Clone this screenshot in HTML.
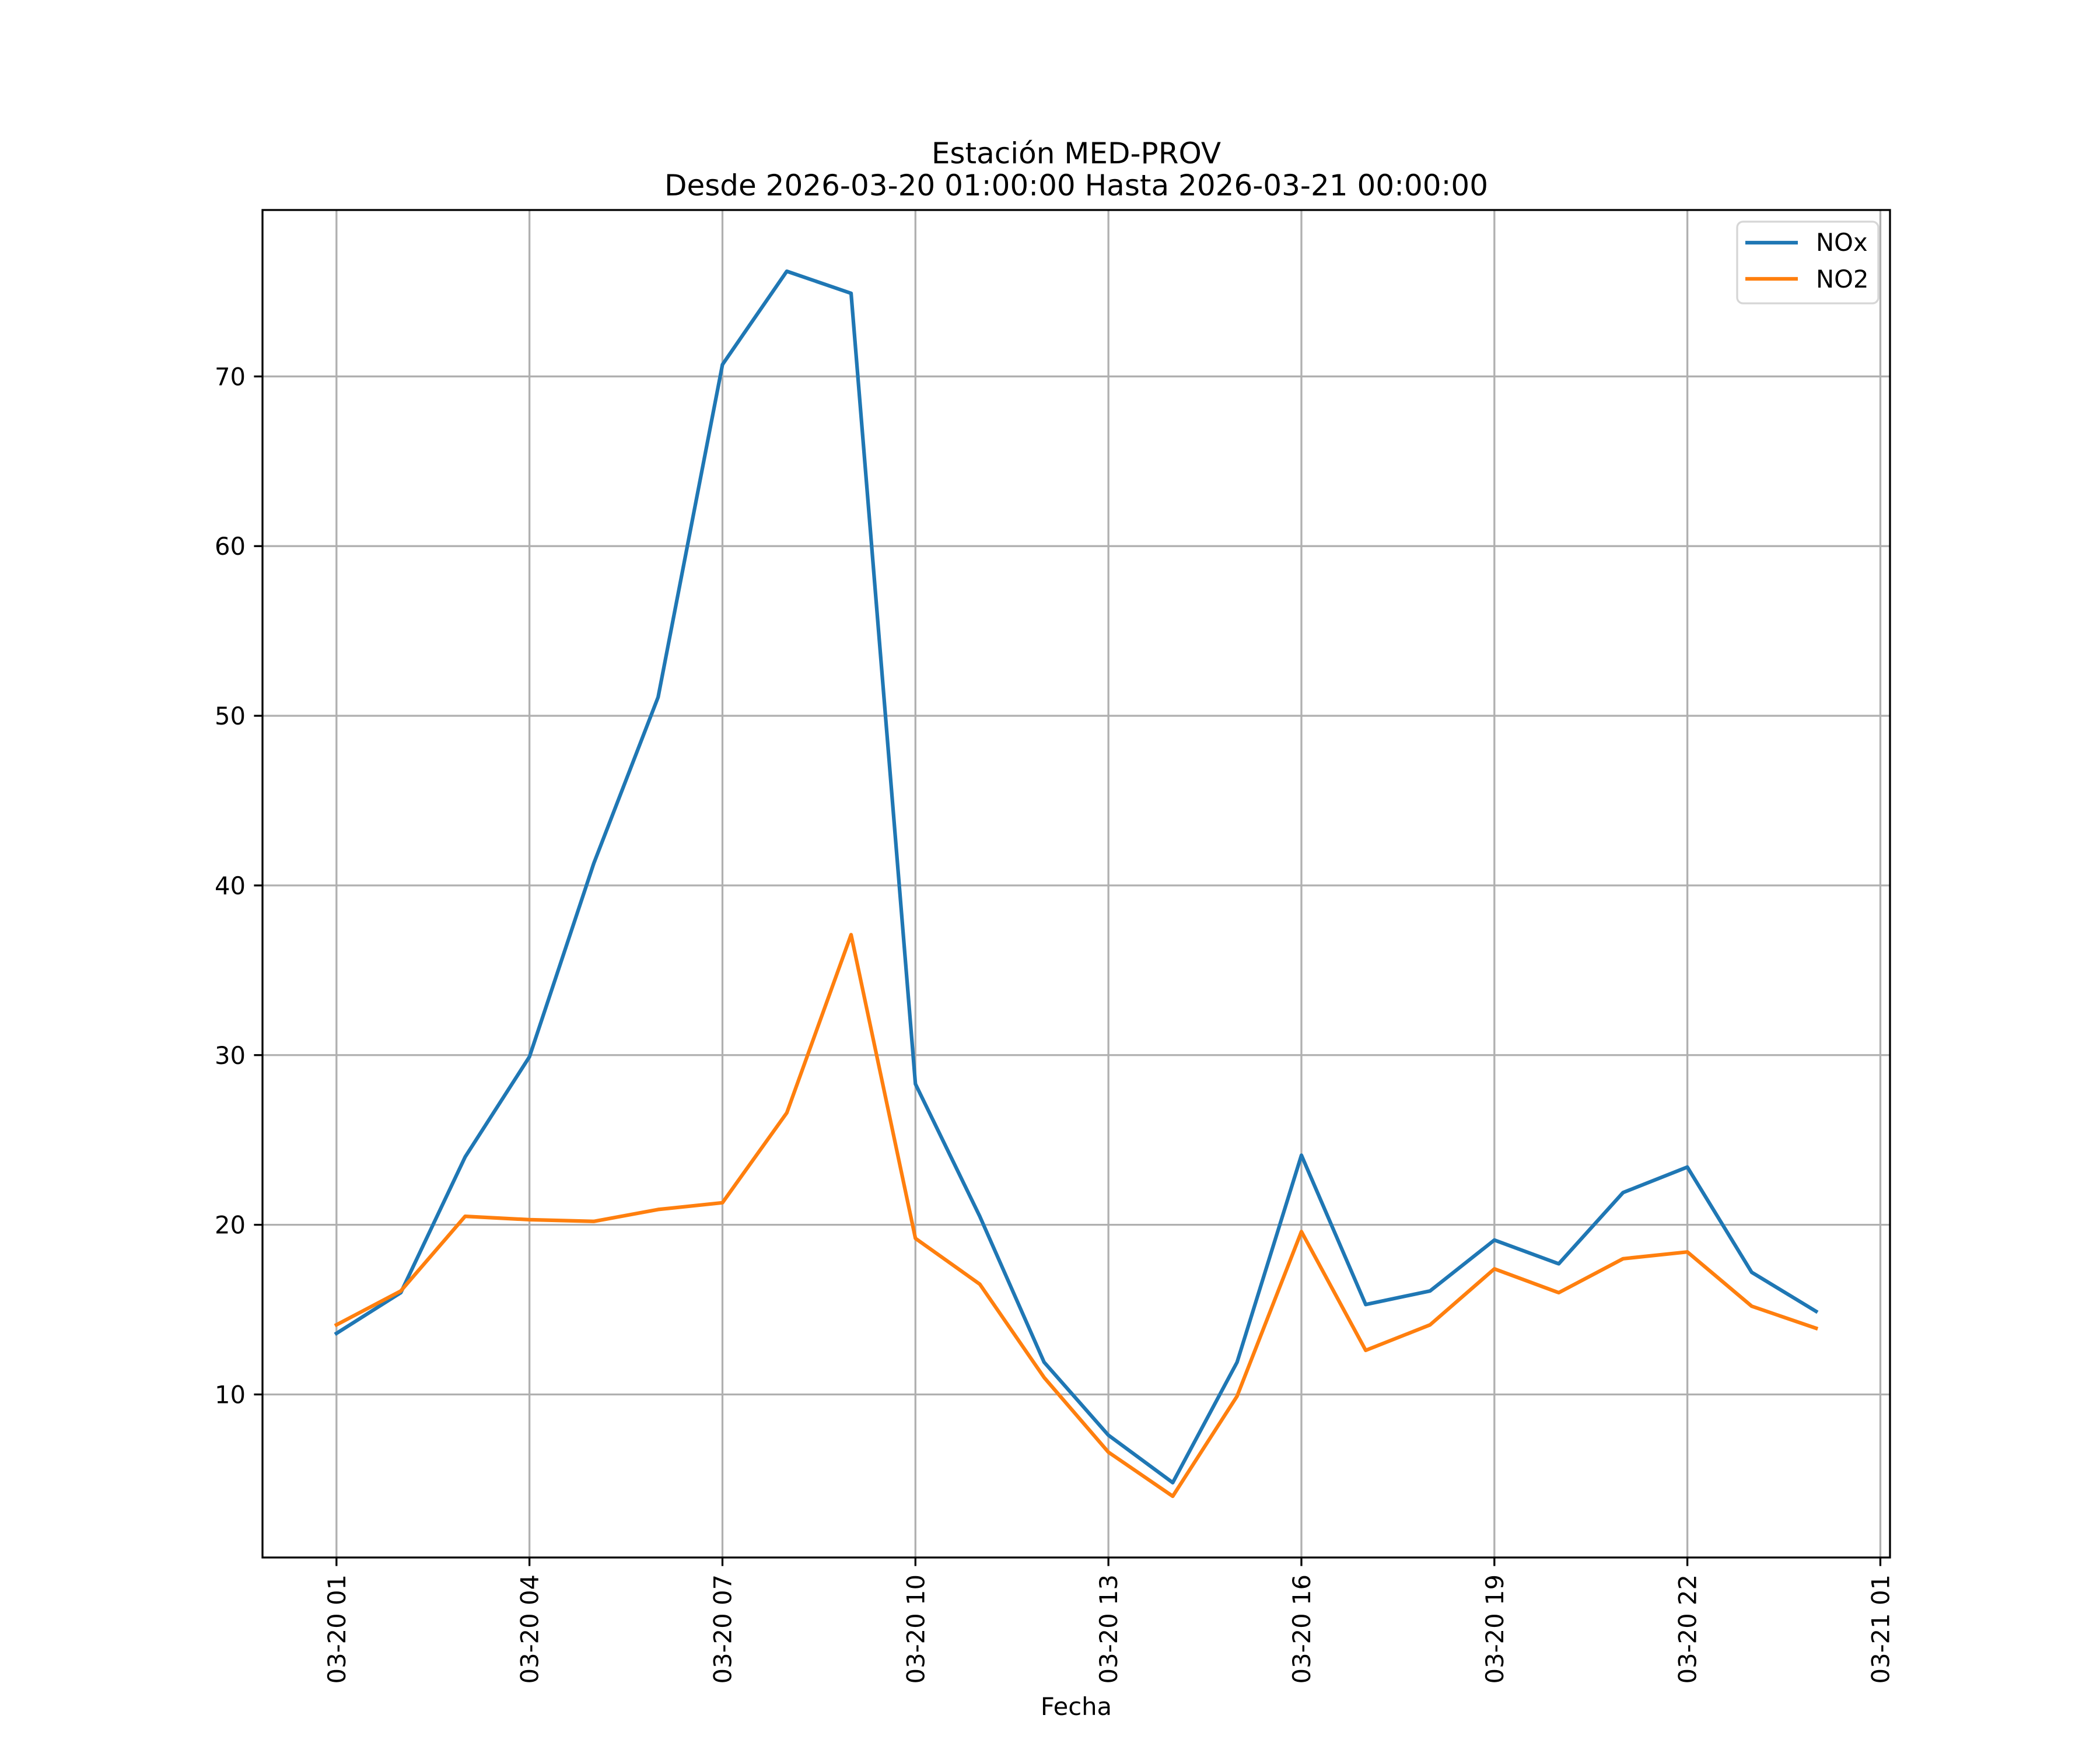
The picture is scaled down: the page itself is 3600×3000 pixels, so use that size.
<!DOCTYPE html>
<html><head><meta charset="utf-8"><style>
html,body{margin:0;padding:0;background:#fff;}
svg{display:block;font-family:"DejaVu Sans","Liberation Sans",sans-serif;}
</style></head><body>
<svg id="chart" width="3600" height="3000" viewBox="0 0 3600 3000" xmlns="http://www.w3.org/2000/svg">
<rect width="3600" height="3000" fill="#fff"/>
<text x="1845" y="280" font-size="50" text-anchor="middle">Estación MED-PROV</text>
<text x="1845" y="335" font-size="50" text-anchor="middle">Desde 2026-03-20 01:00:00 Hasta 2026-03-21 00:00:00</text>
<g id="grid"></g>
<g id="series"></g>
<g id="axes"></g>
<text x="1845" y="2940" font-size="41.7" text-anchor="middle">Fecha</text>
<g>
<rect x="2978" y="380" width="242" height="140" rx="10" fill="#fff" fill-opacity="0.8" stroke="#d6d6d6" stroke-width="3.3"/>
<line x1="2992" y1="416" x2="3082" y2="416" stroke="#1f77b4" stroke-width="6.25"/>
<text x="3113" y="430" font-size="41.7">NOx</text>
<line x1="2992" y1="478" x2="3082" y2="478" stroke="#ff7f0e" stroke-width="6.25"/>
<text x="3113" y="493" font-size="41.7">NO2</text>
</g>
</svg>
<script>
const hours = [0,1,2,3,4,5,6,7,8,9,10,11,12,13,14,15,16,17,18,19,20,21,22,23];
const noxValues = [13.6,16.0,24.0,29.9,41.3,51.1,70.7,76.2,74.9,28.3,20.5,11.9,7.6,4.8,11.9,24.1,15.3,16.1,19.1,17.7,21.9,23.4,17.2,14.9];
const no2Values = [14.1,16.1,20.5,20.3,20.2,20.9,21.3,26.6,37.1,19.2,16.5,11.0,6.6,4.0,9.9,19.6,12.6,14.1,17.4,16.0,18.0,18.4,15.2,13.9];
const xTickHours = [0,3,6,9,12,15,18,21,24];
const xTickLabels = ["03-20 01","03-20 04","03-20 07","03-20 10","03-20 13","03-20 16","03-20 19","03-20 22","03-21 01"];
const yTickValues = [10,20,30,40,50,60,70];

const L=450,R=3240,T=360,B=2670;
const all=noxValues.concat(no2Values);
const vmin=Math.min(...all), vmax=Math.max(...all), vr=vmax-vmin;
const y0=vmin-0.05*vr, y1=vmax+0.05*vr;
const hmin=Math.min(...hours), hmax=Math.max(...hours), hr=hmax-hmin;
const x0=hmin-0.05*hr, x1=hmax+0.05*hr;
const X=h=>L+(h-x0)/(x1-x0)*(R-L);
const Y=v=>B-(v-y0)/(y1-y0)*(B-T);
const NS='http://www.w3.org/2000/svg';
function mk(tag,attrs,parent){const e=document.createElementNS(NS,tag);for(const k in attrs)e.setAttribute(k,attrs[k]);parent.appendChild(e);return e;}
const grid=document.getElementById('grid'),axes=document.getElementById('axes'),series=document.getElementById('series');
xTickHours.forEach((h,i)=>{
  const x=X(h);
  const g=mk('line',{x1:x,y1:T,x2:x,y2:B,stroke:'#b0b0b0','stroke-width':3.3},grid);
  
  
  const t=mk('line',{x1:x,y1:B,x2:x,y2:B+14.6,stroke:'#000','stroke-width':3.3},axes);
  
  
  const lb=mk('text',{x:0,y:0,'font-size':41.7,'text-anchor':'end',transform:`translate(${x+15},${B+29}) rotate(-90)`},axes);
  lb.textContent=xTickLabels[i];
  
  
});
yTickValues.forEach(v=>{
  const y=Y(v);
  const g=mk('line',{x1:L,y1:y,x2:R,y2:y,stroke:'#b0b0b0','stroke-width':3.3},grid);
  
  
  const t=mk('line',{x1:L-14.6,y1:y,x2:L,y2:y,stroke:'#000','stroke-width':3.3},axes);
  
  
  const lb=mk('text',{x:L-29,y:y+15,'font-size':41.7,'text-anchor':'end'},axes);
  lb.textContent=String(v);
  
  
});
const frame=mk('rect',{x:L,y:T,width:R-L,height:B-T,fill:'none',stroke:'#000','stroke-width':3.3},axes);


function line(vals,color,name){
  const d=vals.map((v,i)=>(i?'L':'M')+X(hours[i]).toFixed(1)+' '+Y(v).toFixed(1)).join(' ');
  const p=mk('path',{d:d,fill:'none',stroke:color,'stroke-width':6.25,'stroke-linejoin':'round','stroke-linecap':'square'},series);
  
  
}
line(noxValues,'#1f77b4','nox-line');
line(no2Values,'#ff7f0e','no2-line');
</script>
</body></html>
